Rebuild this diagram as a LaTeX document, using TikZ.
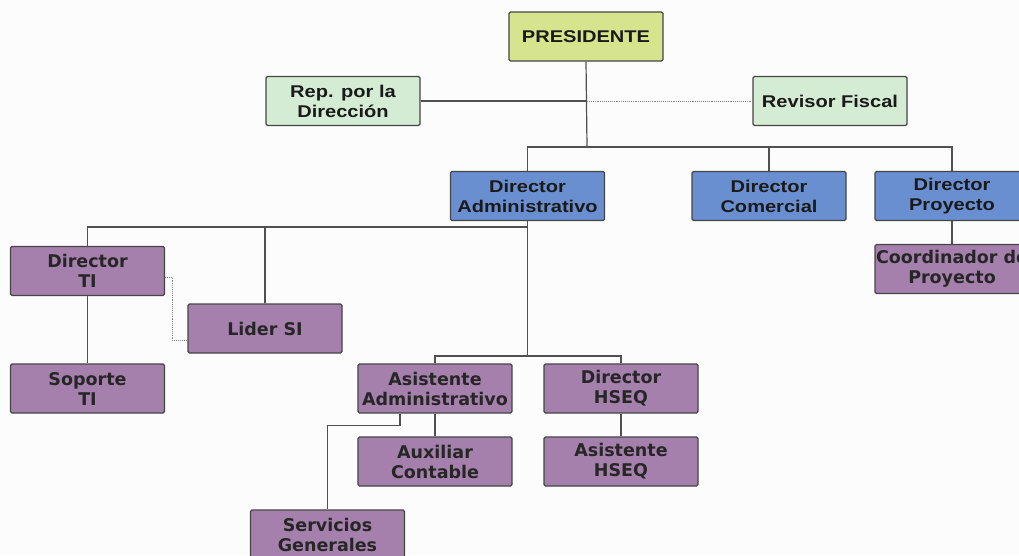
\documentclass[tikz,border=0pt]{standalone}
\usepackage{fontspec}
\newfontfamily\topfont[FakeStretch=1.18]{Liberation Sans}
\newfontfamily\purfont{DejaVu Sans}
\usetikzlibrary{calc}
\definecolor{bgc}{HTML}{FCFCFC}
\definecolor{yel}{HTML}{D6E48E}
\definecolor{grn}{HTML}{D4EBD4}
\definecolor{blu}{HTML}{6A8FD0}
\definecolor{pur}{HTML}{A680AD}
\definecolor{edge}{HTML}{454545}
\definecolor{linec}{HTML}{505050}
\definecolor{txt}{HTML}{1A1A1A}
\tikzset{
  box/.style={draw=edge, line width=1.1pt, rounded corners=1.5pt, minimum width=154pt,
    minimum height=49pt, inner sep=0pt, align=center, text=txt},
  topbox/.style={box, font={\topfont\bfseries\fontsize{17}{20}\selectfont}},
  purbox/.style={box, fill=pur, font={\purfont\bfseries\fontsize{17.5}{20}\selectfont}, text=black!85},
  conn/.style={draw=linec, line width=1.2pt},
  dotconn/.style={draw=linec!70, line width=0.9pt, densely dotted},
}
\begin{document}
\begin{tikzpicture}[x=1pt,y=-1pt]
\useasboundingbox (0,0) rectangle (1019,555);
\clip (0,0) rectangle (1019,555);
\fill[bgc] (0,0) rectangle (1019,555);

% top level
\node[topbox, fill=yel] (pres) at (586,36.5) {PRESIDENTE};
\node[topbox, fill=grn] (rep) at (343,101) {Rep. por la\\Dirección};
\node[topbox, fill=grn] (rev) at (830,101) {Revisor Fiscal};
\node[topbox, fill=blu] (dadm) at (527.5,196) {Director\\Administrativo};
\node[topbox, fill=blu] (dcom) at (769,196) {Director\\Comercial};
\node[topbox, fill=blu] (dpro) at (952,196) {Director\\Proyecto};

% purple boxes
\node[purbox] (coord) at (952,269) {Coordinador de\\Proyecto};
\node[purbox] (dti) at (87.5,271) {Director\\TI};
\node[purbox] (lider) at (265,328.5) {Lider SI};
\node[purbox] (sop) at (87.5,388.5) {Soporte\\TI};
\node[purbox] (asis) at (435,388.5) {Asistente\\Administrativo};
\node[purbox] (dhseq) at (621,388.5) {Director\\HSEQ};
\node[purbox] (aux) at (435,461.5) {Auxiliar\\Contable};
\node[purbox] (ahseq) at (621,461.5) {Asistente\\HSEQ};
\node[purbox] (serv) at (327.5,534.5) {Servicios\\Generales};

% junction points
\coordinate (b1) at (587,147);
\coordinate (j0) at (rep.east -| b1);
\coordinate (b2) at (527.5,227);
\coordinate (b3) at (527.5,356);

% connectors
\draw[conn] (pres.south) -- (b1);
\draw[conn] (rep.east) -- (j0);
\draw[dotconn] (j0) -- (rev.west);
\draw[conn] (dadm.north) |- (b1) -| (dpro.north);
\draw[conn] (dcom.north) -- (dcom.north |- b1);
\draw[conn] (dpro.south) -- (coord.north);

\draw[conn] (dadm.south) -- (b3);
\draw[conn] (dti.north) |- (b2);
\draw[conn] (lider.north) -- (lider.north |- b2);
\draw[conn] (dti.south) -- (sop.north);
\draw[dotconn] ([yshift=-6pt]dti.east) -- ++(7,0) |- ([yshift=-11.5pt]lider.west);

\draw[conn] (asis.north) |- (b3) -| (dhseq.north);
\draw[conn] (asis.south) -- (aux.north);
\draw[conn] ([xshift=-35pt]asis.south) -- ++(0,12) -| (serv.north);
\draw[conn] (dhseq.south) -- (ahseq.north);
\end{tikzpicture}
\end{document}
